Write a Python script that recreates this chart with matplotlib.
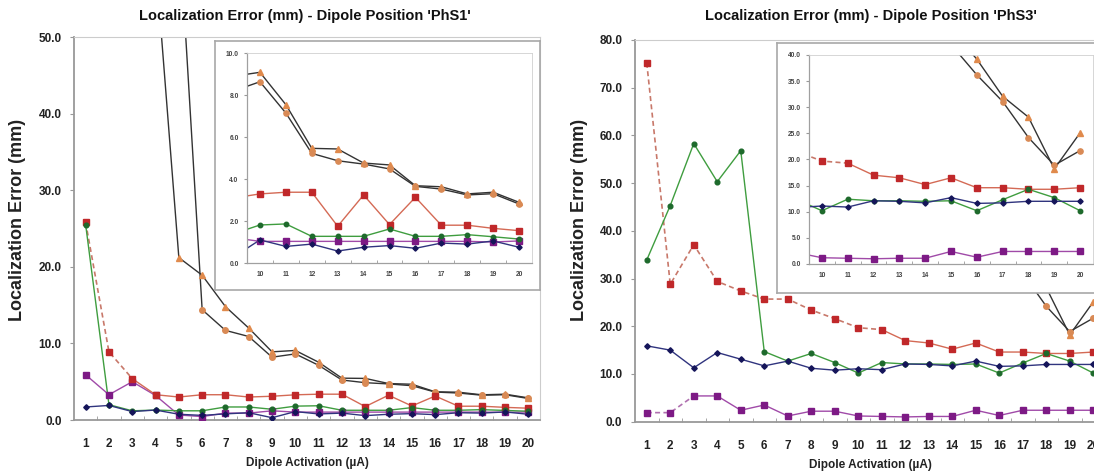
import numpy as np
import matplotlib
matplotlib.use('Agg')
import matplotlib.pyplot as plt
from matplotlib.ticker import FormatStrFormatter, FixedLocator

plt.rcParams['font.family'] = ['Liberation Sans', 'DejaVu Sans']
plt.rcParams['font.weight'] = 'bold'

nan = np.nan
x = np.arange(1, 21)

# dipole position PhS1
blue1 = [1.7, 1.9, 1.1, 1.3, 0.75, 0.6, 0.8, 0.95, 0.3, 1.1, 0.79, 0.9, 0.57, 0.75, 0.83, 0.7, 0.95, 0.9, 1.05, 0.75]
green1 = [25.5, 2.0, 1.2, 1.3, 1.2, 1.2, 1.7, 1.7, 1.4, 1.81, 1.86, 1.27, 1.27, 1.27, 1.62, 1.27, 1.27, 1.35, 1.25, 1.14]
red1 = [25.8, 8.9, 5.4, 3.3, 3.0, 3.3, 3.3, 3.0, 3.1, 3.29, 3.37, 3.37, 1.75, 3.24, 1.83, 3.13, 1.8, 1.8, 1.65, 1.54]
purple1 = [5.9, 3.3, 5.0, 3.2, 0.65, 0.45, 0.9, 0.9, 1.2, 1.03, 1.03, 1.03, 1.03, 1.03, 1.03, 1.03, 1.03, 1.03, 1.0, 1.05]
tri1 = [nan, nan, nan, 60, 21.2, 18.9, 14.8, 12.0, 8.9, 9.08, 7.54, 5.46, 5.43, 4.76, 4.67, 3.68, 3.63, 3.29, 3.37, 2.89]
circ1 = [nan, nan, nan, nan, 65, 14.4, 11.7, 10.9, 8.2, 8.63, 7.14, 5.22, 4.87, 4.71, 4.48, 3.65, 3.52, 3.24, 3.3, 2.81]

# dipole position PhS3
blue3 = [15.9, 15.0, 11.3, 14.5, 13.1, 11.7, 12.7, 11.2, 10.8, 11.1, 10.9, 12.1, 12.0, 11.7, 12.7, 11.6, 11.7, 12.0, 12.0, 12.0]
green3 = [33.9, 45.3, 58.3, 50.3, 56.8, 14.7, 12.7, 14.3, 12.4, 10.2, 12.4, 12.1, 12.1, 12.0, 12.1, 10.2, 12.3, 14.3, 12.7, 10.2]
red3 = [75.2, 28.8, 37.1, 29.4, 27.4, 25.7, 25.7, 23.4, 21.6, 19.7, 19.3, 17.0, 16.5, 15.2, 16.5, 14.6, 14.6, 14.3, 14.3, 14.6]
purple3 = [1.9, 1.9, 5.4, 5.4, 2.4, 3.5, 1.2, 2.2, 2.2, 1.2, 1.1, 1.0, 1.1, 1.1, 2.4, 1.3, 2.4, 2.4, 2.4, 2.4]
tri3 = [nan] * 14 + [45, 39.2, 32.1, 28.1, 18.2, 25.1]
circ3 = [nan] * 14 + [42, 36.2, 31.1, 24.2, 18.9, 21.7]

W, H = 1094, 473


def rect(l, t, r, b):
    return [l / W, (H - b) / H, (r - l) / W, (b - t) / H]


def series(ax, y, line, mk, marker, ms, dash_to=None, dash_col=None):
    y = np.asarray(y, float)
    if dash_to is None:
        ax.plot(x, y, color=line, lw=1.0, zorder=2)
    else:
        ax.plot(x[:dash_to + 1], y[:dash_to + 1], color=dash_col, lw=1.2, ls=(0, (3, 2)), zorder=2)
        ax.plot(x[dash_to:], y[dash_to:], color=line, lw=1.0, zorder=2)
    ax.plot(x, y, ls='none', marker=marker, ms=ms, mfc=mk, mec=mk, zorder=3)


def draw_all(ax, d, scale=1.0):
    blue, green, red, purple, tri, circ, red_dash, purple_dash = d
    series(ax, tri, '#333333', '#e08a4c', '^', 4.5 * scale)
    series(ax, circ, '#333333', '#d98a55', 'o', 4.0 * scale)
    series(ax, purple, '#a04aa8', '#7d1a85', 's', 3.8 * scale, purple_dash, '#b070b0')
    series(ax, red, '#d46a55', '#c0282a', 's', 3.8 * scale, red_dash, '#c8786a')
    series(ax, green, '#3f9d3f', '#1e6a2c', 'o', 3.4 * scale)
    series(ax, blue, '#30347e', '#15155a', 'D', 2.8 * scale)


def style_frame(ax, main_col, light_col, lw_main, lw_light):
    for s in ['left', 'bottom']:
        ax.spines[s].set_color(main_col)
        ax.spines[s].set_linewidth(lw_main)
    for s in ['top', 'right']:
        ax.spines[s].set_color(light_col)
        ax.spines[s].set_linewidth(lw_light)


def main_axes(fig, r, ymax, data, title, tcx, ylx):
    ax = fig.add_axes(r)
    draw_all(ax, data)
    ax.set_xlim(0.5, 20.5)
    ax.set_ylim(0, ymax)
    ax.set_yticks(np.arange(0, ymax + 1, 10))
    ax.yaxis.set_major_formatter(FormatStrFormatter('%.1f'))
    ax.set_xticks(x)
    ax.xaxis.set_minor_locator(FixedLocator(np.arange(1.5, 20, 1)))
    ax.tick_params(axis='y', direction='out', length=3, color='#999999', labelsize=8.5, labelcolor='#222222', pad=6)
    ax.tick_params(axis='x', which='major', length=0, labelsize=8.5, labelcolor='#222222', pad=13)
    ax.tick_params(axis='x', which='minor', direction='in', length=3, color='#999999')
    for lab in ax.get_xticklabels() + ax.get_yticklabels():
        lab.set_fontweight('bold')
    style_frame(ax, '#999999', '#cccccc', 1.3, 0.8)
    ax.set_xlabel('Dipole Activation (\u00b5A)', fontsize=8.5, fontweight='bold', color='#222222', labelpad=5)
    fig.text(tcx / W, 1 - 16 / H, title, ha='center', va='center', fontsize=10.5, fontweight='bold', color='#111111')
    fig.text(ylx / W, 1 - 220 / H, 'Localization Error (mm)', rotation=90, ha='center', va='center',
             fontsize=13, fontweight='bold', color='#222222')
    return ax


def inset_axes(fig, frame_r, inner_r, ymax, ystep, data):
    fr = fig.add_axes(frame_r, zorder=5)
    fr.set_xticks([])
    fr.set_yticks([])
    for s in fr.spines.values():
        s.set_color('#a8a8a8')
        s.set_linewidth(1.2)
    ax = fig.add_axes(inner_r, zorder=6)
    ax.patch.set_alpha(0)
    draw_all(ax, data, scale=0.95)
    ax.set_xlim(9.5, 20.5)
    ax.set_ylim(0, ymax)
    ax.set_yticks(np.arange(0, ymax + 0.01, ystep))
    ax.yaxis.set_major_formatter(FormatStrFormatter('%.1f'))
    ax.set_xticks(np.arange(10, 21))
    ax.xaxis.set_minor_locator(FixedLocator(np.arange(10.5, 20, 1)))
    ax.tick_params(axis='y', direction='out', length=2, color='#999999', labelsize=4.8, labelcolor='#444444', pad=4)
    ax.tick_params(axis='x', which='major', length=0, labelsize=4.8, labelcolor='#444444', pad=6)
    ax.tick_params(axis='x', which='minor', direction='in', length=2, color='#999999')
    for lab in ax.get_xticklabels() + ax.get_yticklabels():
        lab.set_fontweight('bold')
    style_frame(ax, '#a0a0a0', '#d0d0d0', 0.9, 0.6)
    return ax


fig = plt.figure(figsize=(W / 100, H / 100), dpi=100)

d1 = (blue1, green1, red1, purple1, tri1, circ1, 2, None)
d3 = (blue3, green3, red3, purple3, tri3, circ3, 10, 2)

main_axes(fig, rect(74, 37, 540, 420), 50, d1, "Localization Error (mm) - Dipole Position 'PhS1'", 305, 18)
inset_axes(fig, rect(215, 41, 540, 290), rect(247, 53, 532, 263), 10, 2, d1)

main_axes(fig, rect(635, 40, 1105, 421.7), 80, d3, "Localization Error (mm) - Dipole Position 'PhS3'", 871, 580)
inset_axes(fig, rect(777, 43, 1130, 293), rect(809, 55, 1093, 264), 40, 5, d3)

fig.savefig('out.png', dpi=100)
